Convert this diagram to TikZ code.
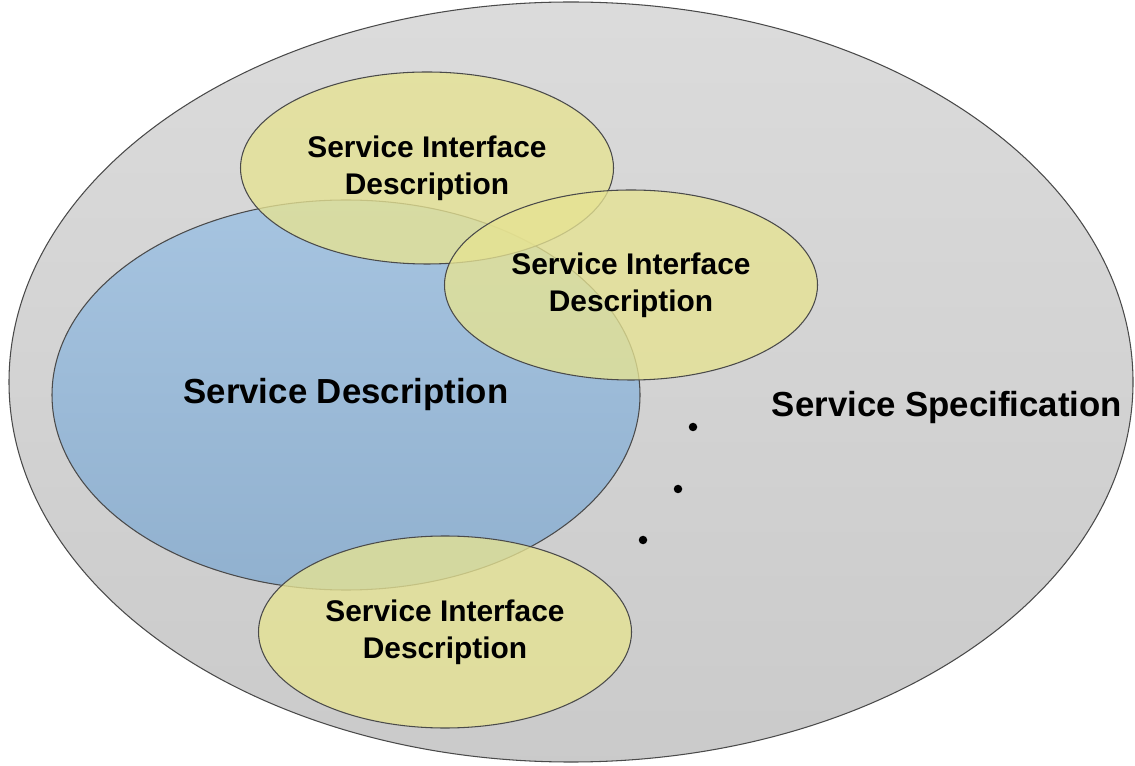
\documentclass[tikz,border=0pt]{standalone}
\usepackage{fontspec}
\setmainfont{Liberation Sans}
\usetikzlibrary{shapes.geometric}
\definecolor{specgray}{HTML}{D5D5D5}
\definecolor{descblue}{HTML}{9ABCDC}
\definecolor{ifyellow}{HTML}{E6E392}
\definecolor{edgegray}{HTML}{4A4A4A}
\begin{document}
\begin{tikzpicture}[
  blob/.style = {ellipse, draw = edgegray, line width = 0.6pt, inner sep = 0pt, align = center, font = \bfseries\fontsize{17}{21}\selectfont},
  ifblob/.style = {blob, fill = ifyellow, fill opacity = 0.78, text opacity = 1, minimum width = 7.46cm, minimum height = 3.84cm}
]
\useasboundingbox (0,0) rectangle (22.7,15.3);
\node [blob, top color = specgray!85!white, bottom color = specgray!95!black, minimum width = 22.48cm, minimum height = 15.2cm] (spec) at (11.42,7.66) {};
\node [font = \bfseries\fontsize{19.8}{24}\selectfont] (speclabel) at (18.94,7.14) {Service Specification};
\node [blob, top color = descblue!88!white, bottom color = descblue!94!black, minimum width = 11.76cm, minimum height = 7.8cm, font = \bfseries\fontsize{19.8}{24}\selectfont] (desc) at (6.92,7.4) {\raisebox{-0.06cm}{Service Description}};
\node [ifblob] (iftop) at (8.54,11.94) {Service Interface\\Description};
\node [ifblob, minimum height = 3.8cm] (ifright) at (12.62,9.6) {Service Interface\\Description};
\node [ifblob] (ifbottom) at (8.9,2.66) {Service Interface\\Description};
\foreach \x/\y in {13.86/6.76, 13.56/5.52, 12.86/4.5}
  \fill [black] (\x,\y) circle [radius = 0.085];
\end{tikzpicture}
\end{document}
